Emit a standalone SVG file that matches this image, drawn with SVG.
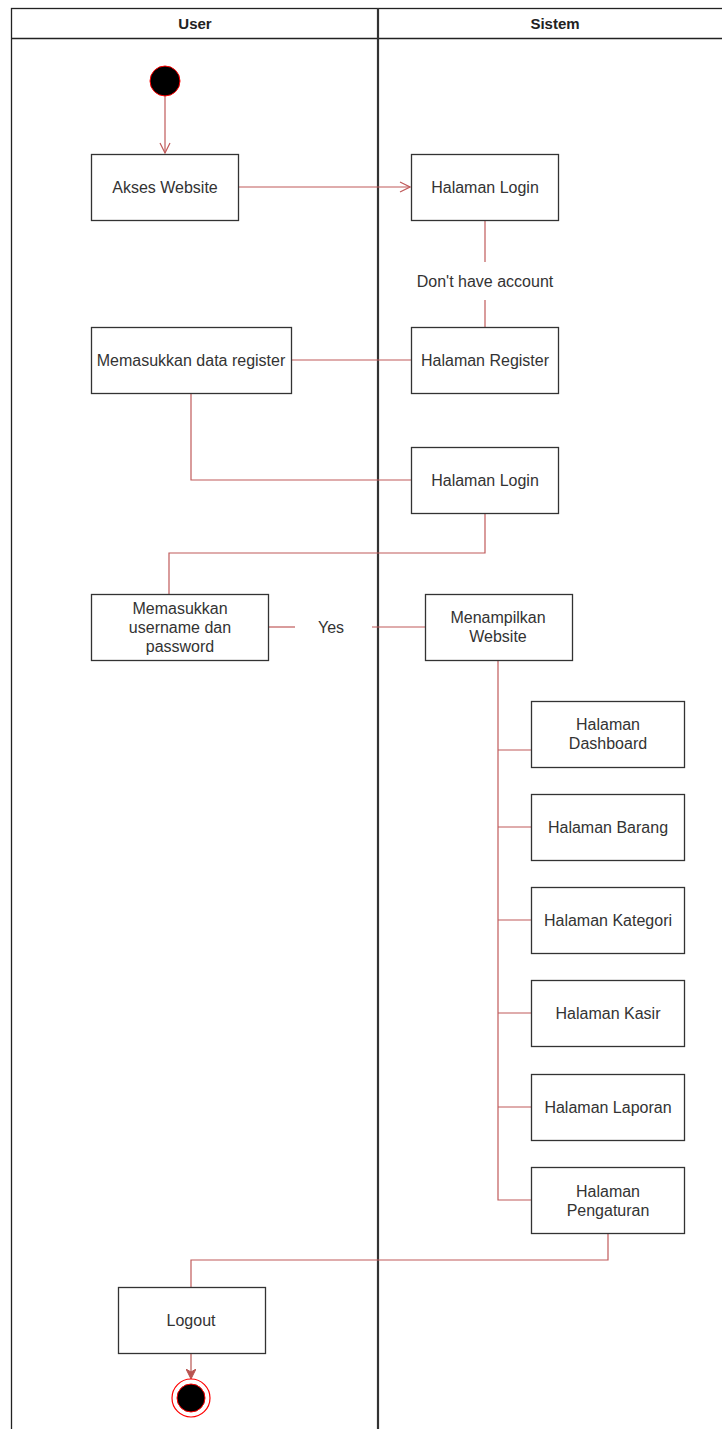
<svg xmlns="http://www.w3.org/2000/svg" width="722" height="1429" viewBox="0 0 722 1429">
<defs>
<style>
.box{fill:#fff;stroke:#333;stroke-width:1.3}
.t{font-family:"Liberation Sans",Arial,sans-serif;font-size:16px;fill:#333;text-anchor:middle}
.h{font-family:"Liberation Sans",Arial,sans-serif;font-size:15px;font-weight:bold;fill:#222;text-anchor:middle}
.c{fill:none;stroke:#c05a5a;stroke-width:1.2}
</style>
<marker id="open" viewBox="0 0 12 12" refX="11" refY="6" markerWidth="12" markerHeight="12" markerUnits="userSpaceOnUse" orient="auto">
<path d="M1,1 L11,6 L1,11" fill="none" stroke="#c05a5a" stroke-width="1.2"/>
</marker>
<marker id="fill" viewBox="0 0 10 10" refX="9" refY="5" markerWidth="10" markerHeight="10" markerUnits="userSpaceOnUse" orient="auto">
<path d="M0,0 L10,5 L0,10 L3,5 Z" fill="#b85450" stroke="#b85450"/>
</marker>
</defs>
<rect width="722" height="1429" fill="#fff"/>
<g id="pool">
<rect x="11.5" y="8.5" width="720" height="1430" fill="none" stroke="#222" stroke-width="1.3"/>
<line x1="11" y1="38.5" x2="722" y2="38.5" stroke="#222" stroke-width="1.3"/>
<line x1="378" y1="8" x2="378" y2="1429" stroke="#333" stroke-width="2.2"/>
<text class="h" x="195" y="29">User</text>
<text class="h" x="555" y="29">Sistem</text>
</g>
<g id="connectors">
<line class="c" x1="165" y1="96" x2="165" y2="153" marker-end="url(#open)"/>
<line class="c" x1="238" y1="187" x2="410" y2="187" marker-end="url(#open)"/>
<line class="c" x1="485" y1="220" x2="485" y2="262"/>
<line class="c" x1="485" y1="300" x2="485" y2="327"/>
<line class="c" x1="291" y1="360" x2="411" y2="360"/>
<polyline class="c" points="191,393 191,480 411,480"/>
<polyline class="c" points="485,513 485,553 169,553 169,594"/>
<line class="c" x1="268" y1="627" x2="295" y2="627"/>
<line class="c" x1="372" y1="627" x2="425" y2="627"/>
<polyline class="c" points="498,660 498,1200 531,1200"/>
<line class="c" x1="498" y1="750" x2="531" y2="750"/>
<line class="c" x1="498" y1="827" x2="531" y2="827"/>
<line class="c" x1="498" y1="920" x2="531" y2="920"/>
<line class="c" x1="498" y1="1013" x2="531" y2="1013"/>
<line class="c" x1="498" y1="1107" x2="531" y2="1107"/>
<polyline class="c" points="608,1233 608,1260 191,1260 191,1287"/>
<line x1="191" y1="1353" x2="191" y2="1378" stroke="#b85450" stroke-width="1.2" marker-end="url(#fill)"/>
<text class="t" x="485" y="287">Don't have account</text>
<text class="t" x="331" y="633">Yes</text>
</g>
<g id="start"><circle cx="165" cy="81" r="15" fill="#000" stroke="#ff0000" stroke-width="1"/></g>
<g id="akses"><rect class="box" x="91.5" y="154.5" width="147" height="66"/><text class="t" x="165" y="193">Akses Website</text></g>
<g id="login1"><rect class="box" x="411.5" y="154.5" width="147" height="66"/><text class="t" x="485" y="193">Halaman Login</text></g>
<g id="register"><rect class="box" x="411.5" y="327.5" width="147" height="66"/><text class="t" x="485" y="366">Halaman Register</text></g>
<g id="dataregister"><rect class="box" x="91.5" y="327.5" width="200" height="66"/><text class="t" x="191" y="366">Memasukkan data register</text></g>
<g id="login2"><rect class="box" x="411.5" y="447.5" width="147" height="66"/><text class="t" x="485" y="486">Halaman Login</text></g>
<g id="userpass"><rect class="box" x="91.5" y="594.5" width="177" height="66"/><text class="t" x="180" y="614">Memasukkan</text><text class="t" x="180" y="633">username dan</text><text class="t" x="180" y="652">password</text></g>
<g id="menampilkan"><rect class="box" x="425.5" y="594.5" width="147" height="66"/><text class="t" x="498" y="623">Menampilkan</text><text class="t" x="498" y="642">Website</text></g>
<g id="dashboard"><rect class="box" x="531.5" y="701.5" width="153" height="66"/><text class="t" x="608" y="730">Halaman</text><text class="t" x="608" y="749">Dashboard</text></g>
<g id="barang"><rect class="box" x="531.5" y="794.5" width="153" height="66"/><text class="t" x="608" y="833">Halaman Barang</text></g>
<g id="kategori"><rect class="box" x="531.5" y="887.5" width="153" height="66"/><text class="t" x="608" y="926">Halaman Kategori</text></g>
<g id="kasir"><rect class="box" x="531.5" y="980.5" width="153" height="66"/><text class="t" x="608" y="1019">Halaman Kasir</text></g>
<g id="laporan"><rect class="box" x="531.5" y="1074.5" width="153" height="66"/><text class="t" x="608" y="1113">Halaman Laporan</text></g>
<g id="pengaturan"><rect class="box" x="531.5" y="1167.5" width="153" height="66"/><text class="t" x="608" y="1197">Halaman</text><text class="t" x="608" y="1216">Pengaturan</text></g>
<g id="logout"><rect class="box" x="118.5" y="1287.5" width="147" height="66"/><text class="t" x="191" y="1326">Logout</text></g>
<g id="end"><circle cx="191" cy="1398" r="19" fill="#fff" stroke="#ff0000" stroke-width="1.2"/><circle cx="191" cy="1398" r="14" fill="#000" stroke="#ff0000" stroke-width="1"/></g>
</svg>
